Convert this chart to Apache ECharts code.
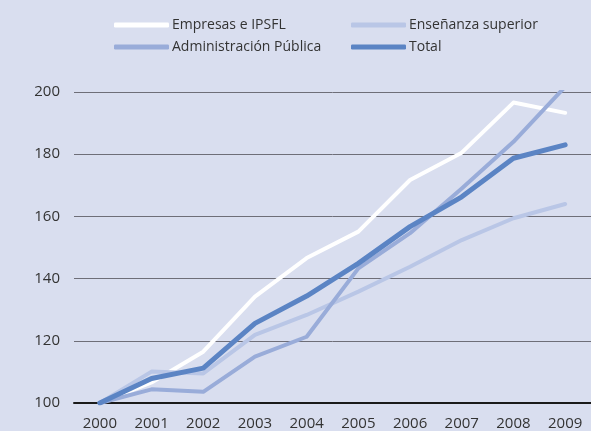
<!DOCTYPE html>
<html><head><meta charset="utf-8">
<script src="https://cdn.jsdelivr.net/npm/echarts@6/dist/echarts.min.js"></script>
<style>html,body{margin:0;padding:0;background:#d9deef}#c{width:591px;height:431px}</style>
</head><body><div id="c"></div>
<script>
const years = ['2000','2001','2002','2003','2004','2005','2006','2007','2008','2009'];
const empresas = [100, 106.6, 116.5, 134.2, 146.6, 155.1, 171.7, 180.5, 196.6, 193.3];
const ensenanza = [100, 110.1, 109.5, 121.9, 128.3, 135.8, 143.8, 152.4, 159.4, 164.0];
const administracion = [100, 104.4, 103.6, 114.9, 121.3, 143.3, 154.6, 169.0, 184.0, 201.7];
const total = [100, 107.9, 111.2, 125.6, 134.4, 144.9, 156.7, 166.3, 178.7, 183.0];
const names = ['Empresas e IPSFL','Enseñanza superior','Administración Pública','Total'];
const yTicks = {min:100, max:200, interval:20};

const FONT = 'Open Sans';
const chart = echarts.init(document.getElementById('c'), null, {renderer:'canvas'});
function s(name, data, color, w, z){
  return {name, type:'line', data, symbol:'none', z,
    lineStyle:{color, width:w, cap:'round', join:'round'}, itemStyle:{color}};
}
const legendCommon = {orient:'vertical', top:13, itemWidth:55, itemHeight:5, itemGap:8,
  icon:'roundRect',
  textStyle:{fontFamily:FONT, fontSize:14, color:'#333', padding:[0,0,0,-2]}};
chart.setOption({
  backgroundColor:'#d9deef',
  animation:false,
  textStyle:{fontFamily:FONT},
  legend:[
    Object.assign({left:109, data:[names[0], names[2]]}, legendCommon),
    Object.assign({left:346, data:[names[1], names[3]]}, legendCommon)
  ],
  grid:{left:74, right:0, top:92, bottom:28},
  xAxis:{type:'category', data:years, boundaryGap:true,
    axisLine:{lineStyle:{color:'#1a1a1a', width:2}}, axisTick:{show:false},
    axisLabel:{color:'#333', fontSize:15, fontFamily:FONT, margin:13}},
  yAxis:{type:'value', min:yTicks.min, max:yTicks.max, interval:yTicks.interval,
    axisLine:{show:false}, axisTick:{show:false},
    splitLine:{lineStyle:{color:'#6e6e78', width:1}},
    axisLabel:{color:'#333', fontSize:15, fontFamily:FONT, margin:14}},
  series:[
    s(names[0], empresas, '#ffffff', 4, 2),
    s(names[1], ensenanza, '#b9c6e6', 4, 3),
    s(names[2], administracion, '#99acd9', 4, 4),
    s(names[3], total, '#5b84c4', 5, 5)
  ]
});
</script></body></html>
